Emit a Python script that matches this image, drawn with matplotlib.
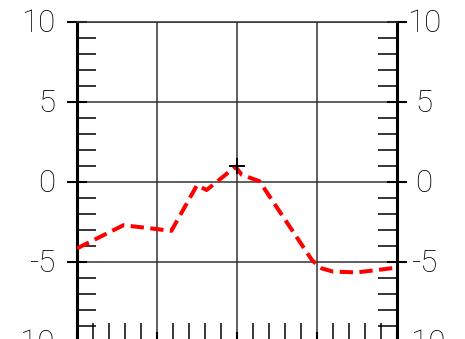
import matplotlib
matplotlib.use("Agg")
import matplotlib.pyplot as plt
from matplotlib.ticker import MultipleLocator
from matplotlib.transforms import offset_copy

# curve vertices
xs = [-10, -7.1, -4.1, -2.5, -1.9, -0.1, 0.3, 1.4, 4.7, 5.3, 6.0, 7.5, 10]
ys = [-4.15, -2.7, -3.05, -0.2, -0.5, 0.95, 0.45, 0.05, -4.9, -5.4, -5.6, -5.65, -5.35]

# marked point
px, py = [0], [1]

yticks = [-10, -5, 0, 5, 10]
ylabels = ["-10", "-5", "0", "5", "10"]

PT = 0.72  # points per pixel at dpi 100

fig = plt.figure(figsize=(4.65, 3.39), dpi=100)
ax = fig.add_axes([77 / 465, -3 / 339, 320 / 465, 320 / 339])

ax.plot(xs, ys, color="red", lw=2.9, dashes=(3.3, 1.6), dash_capstyle="butt", zorder=3)
ax.plot(px, py, "+", color="black", ms=12, mew=1.4, zorder=4)

ax.set_xlim(-10, 10)
ax.set_ylim(-10, 10)
ax.xaxis.set_major_locator(MultipleLocator(5))
ax.xaxis.set_minor_locator(MultipleLocator(1))
ax.set_yticks(yticks)
ax.yaxis.set_minor_locator(MultipleLocator(1))

ax.grid(True, which="major", color="#333333", lw=1.1)

for s in ["left", "right", "bottom"]:
    ax.spines[s].set_linewidth(2.2)
    ax.spines[s].set_color("black")
ax.spines["top"].set_linewidth(1.1)
ax.spines["top"].set_color("#333333")

ax.tick_params(axis="y", which="major", direction="inout", length=20 * PT, width=1.5,
               left=True, right=True, labelleft=False, labelright=False)
ax.tick_params(axis="y", which="minor", direction="in", length=19 * PT, width=1.1,
               left=True, right=True)
ax.tick_params(axis="x", which="major", direction="inout", length=20 * PT, width=1.5,
               bottom=True, top=False, labelbottom=False)
ax.tick_params(axis="x", which="minor", direction="in", length=19 * PT, width=1.1,
               bottom=True, top=False)

# y labels on both sides
font = dict(family=["Roboto", "DejaVu Sans"], weight="light", size=22.5)
left_tr = offset_copy(ax.get_yaxis_transform(), fig=fig, x=-22 * PT, y=-2 * PT, units="points")
right_tr = offset_copy(ax.get_yaxis_transform(), fig=fig, x=27 * PT, y=-2 * PT, units="points")
for v, lab in zip(yticks, ylabels):
    ax.text(0, v, lab, transform=left_tr, ha="right", va="center", clip_on=False, **font)
    ax.text(1, v, lab, transform=right_tr, ha="center", va="center", clip_on=False, **font)

fig.savefig("out.png", dpi=100)
